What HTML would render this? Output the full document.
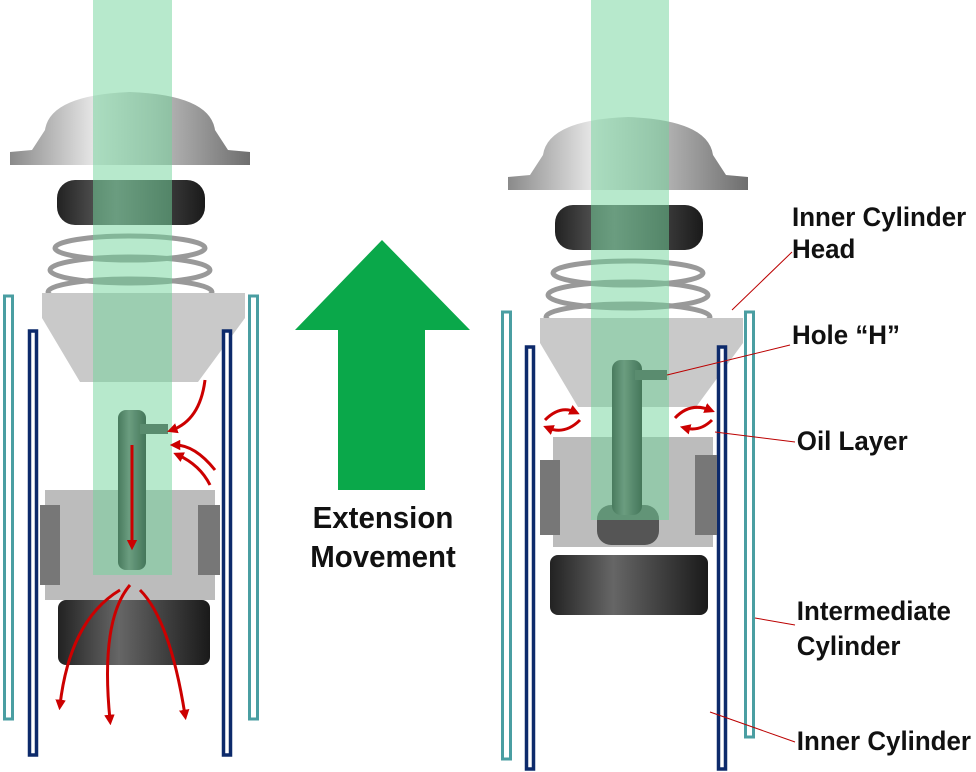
<!DOCTYPE html>
<html><head><meta charset="utf-8"><style>
body{margin:0;background:#fff;}
svg{display:block}
text{font-family:"Liberation Sans",sans-serif;font-weight:bold;fill:#111;}
</style></head><body>
<svg width="976" height="772" viewBox="0 0 976 772" xmlns="http://www.w3.org/2000/svg">
<defs>
<linearGradient id="cap" x1="0" y1="0" x2="1" y2="0">
<stop offset="0" stop-color="#8a8a8a"/><stop offset=".35" stop-color="#e6e6e6"/><stop offset=".6" stop-color="#bdbdbd"/><stop offset="1" stop-color="#6e6e6e"/></linearGradient>
<linearGradient id="dark" x1="0" y1="0" x2="1" y2="0">
<stop offset="0" stop-color="#222"/><stop offset=".4" stop-color="#666"/><stop offset="1" stop-color="#1a1a1a"/></linearGradient>
<marker id="ah" viewBox="0 0 8 8" markerWidth="3.5" markerHeight="3.5" refX="4" refY="4" orient="auto"><path d="M0,0 L8,4 L0,8 z" fill="#c00"/></marker>
<g id="top">
<path d="M45,130 Q50,95 130,92 Q210,95 215,130 L228,150 L250,152 L250,165 L10,165 L10,152 L32,150 Z" fill="url(#cap)"/>
<rect x="57" y="180" width="148" height="45" rx="18" fill="url(#dark)"/>
<ellipse cx="130" cy="248" rx="75" ry="12" fill="none" stroke="#999" stroke-width="5"/>
<ellipse cx="130" cy="270" rx="80" ry="13" fill="none" stroke="#999" stroke-width="5"/>
<ellipse cx="130" cy="292" rx="82" ry="13" fill="none" stroke="#999" stroke-width="5"/>
<polygon points="42,293 245,293 245,318 198,382 80,382 42,318" fill="#c9c9c9"/>
</g>
</defs>

<!-- LEFT -->
<use href="#top"/>
<rect x="4.5" y="296" width="8" height="423" fill="#fff" stroke="#4a9ea2" stroke-width="3"/>
<rect x="249.5" y="296" width="8" height="423" fill="#fff" stroke="#4a9ea2" stroke-width="3"/>
<rect x="29.5" y="331" width="7" height="424" fill="#fff" stroke="#0d2a6b" stroke-width="3.5"/>
<rect x="223.5" y="331" width="7" height="424" fill="#fff" stroke="#0d2a6b" stroke-width="3.5"/>
<rect x="45" y="490" width="170" height="110" fill="#bcbcbc"/>
<rect x="40" y="505" width="20" height="80" fill="#777"/>
<rect x="198" y="505" width="22" height="70" fill="#777"/>
<rect x="58" y="600" width="152" height="65" rx="8" fill="url(#dark)"/>
<rect x="118" y="410" width="28" height="160" rx="8" fill="url(#dark)"/>
<rect x="140" y="424" width="28" height="10" fill="#444"/>
<rect x="93" y="0" width="79" height="575" fill="#6fd39a" opacity=".5"/>
<g fill="none" stroke="#c00" stroke-width="3" marker-end="url(#ah)">
<path d="M132,445 L132,545"/>
<path d="M205,380 Q200,420 172,430"/>
<path d="M215,470 Q195,445 175,445"/>
<path d="M210,485 Q200,465 178,455"/>
<path d="M130,585 Q100,620 110,720"/>
<path d="M120,590 Q70,620 60,705"/>
<path d="M140,590 Q170,620 185,715"/>
</g>

<!-- RIGHT -->
<use href="#top" transform="translate(498,25)"/>
<rect x="502.5" y="312" width="8" height="447" fill="#fff" stroke="#4a9ea2" stroke-width="3"/>
<rect x="745.5" y="312" width="8" height="425" fill="#fff" stroke="#4a9ea2" stroke-width="3"/>
<rect x="526.5" y="347" width="7" height="422" fill="#fff" stroke="#0d2a6b" stroke-width="3.5"/>
<rect x="718.5" y="347" width="7" height="422" fill="#fff" stroke="#0d2a6b" stroke-width="3.5"/>
<rect x="553" y="437" width="160" height="110" fill="#bcbcbc"/>
<rect x="540" y="460" width="20" height="75" fill="#777"/>
<rect x="695" y="455" width="22" height="80" fill="#777"/>
<rect x="550" y="555" width="158" height="60" rx="8" fill="url(#dark)"/>
<rect x="597" y="505" width="62" height="40" rx="14" fill="#555"/>
<rect x="612" y="360" width="30" height="155" rx="9" fill="url(#dark)"/>
<rect x="635" y="370" width="32" height="10" fill="#444"/>
<rect x="591" y="0" width="78" height="520" fill="#6fd39a" opacity=".5"/>
<g fill="none" stroke="#c00" stroke-width="3" marker-end="url(#ah)">
<path d="M545,420 Q560,405 575,412"/>
<path d="M580,420 Q565,435 548,428"/>
<path d="M675,418 Q690,402 710,410"/>
<path d="M712,420 Q700,432 685,428"/>
</g>

<!-- arrow -->
<polygon points="382,240 470,330 425,330 425,490 338,490 338,330 295,330" fill="#0aa84a"/>
<text x="383" y="528" font-size="31" text-anchor="middle" transform="translate(383,0) scale(0.95,1) translate(-383,0)">Extension</text>
<text x="383" y="567" font-size="31" text-anchor="middle" transform="translate(383,0) scale(0.95,1) translate(-383,0)">Movement</text>

<g stroke="#b00" stroke-width="1" fill="none">
<line x1="792" y1="252" x2="732" y2="310"/>
<line x1="790" y1="345" x2="667" y2="375"/>
<line x1="795" y1="442" x2="715" y2="432"/>
<line x1="795" y1="625" x2="755" y2="618"/>
<line x1="795" y1="742" x2="710" y2="712"/>
</g>
<g font-size="27" transform="translate(792,0) scale(0.96,1) translate(-792,0)">
<text x="792" y="226">Inner Cylinder</text>
<text x="792" y="258">Head</text>
<text x="792" y="344">Hole “H”</text>
<text x="797" y="450">Oil Layer</text>
<text x="797" y="620">Intermediate</text>
<text x="797" y="655">Cylinder</text>
<text x="797" y="750">Inner Cylinder</text>
</g>
</svg>
</body></html>
